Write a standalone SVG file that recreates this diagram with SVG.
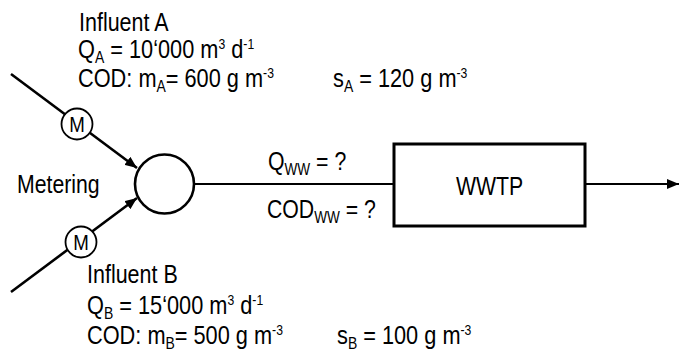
<svg xmlns="http://www.w3.org/2000/svg" width="679" height="363" viewBox="0 0 679 363">
<style>
.t{font-family:"Liberation Sans",Arial,Helvetica,sans-serif;font-size:25px;fill:#000}
.sub{font-size:16px}
.sup{font-size:14px}
.ln{stroke:#000;fill:none}
</style>
<defs>
<marker id="ah" markerUnits="userSpaceOnUse" markerWidth="12" markerHeight="10" refX="12" refY="5" orient="auto" viewBox="0 0 12 10">
<path d="M0,0 L12,5 L0,10 z" fill="#000"/>
</marker>
</defs>
<rect width="679" height="363" fill="#fff"/>
<g id="connectors">
<line class="ln" x1="11" y1="74" x2="137" y2="168" stroke-width="2.6" marker-end="url(#ah)"/>
<line class="ln" x1="11" y1="292" x2="137" y2="198" stroke-width="2.6" marker-end="url(#ah)"/>
<line class="ln" x1="194" y1="184" x2="394" y2="184" stroke-width="2.2"/>
<line class="ln" x1="585" y1="184" x2="679" y2="184" stroke-width="2.2" marker-end="url(#ah)"/>
</g>
<g id="meter-a">
<circle cx="77" cy="124" r="15.5" fill="#fff" stroke="#000" stroke-width="1.8"/>
<text class="t" text-anchor="middle" transform="translate(77,132) scale(0.85,1)" style="font-size:22px">M</text>
</g>
<g id="meter-b">
<circle cx="81" cy="242" r="15.5" fill="#fff" stroke="#000" stroke-width="1.8"/>
<text class="t" text-anchor="middle" transform="translate(81,250) scale(0.85,1)" style="font-size:22px">M</text>
</g>
<g id="mixer">
<circle cx="164.5" cy="184" r="29.5" fill="#fff" stroke="#000" stroke-width="2.6"/>
</g>
<g id="wwtp">
<rect x="394" y="144" width="191" height="82" fill="#fff" stroke="#000" stroke-width="3"/>
<text class="t" text-anchor="middle" transform="translate(489.5,194.5) scale(0.85,1)">WWTP</text>
</g>
<g id="metering-label">
<text class="t" transform="translate(17,193) scale(0.85,1)">Metering</text>
</g>
<g id="influent-a">
<text class="t" transform="translate(79,31) scale(0.86,1)">Influent A</text>
<text class="t" transform="translate(78,58) scale(0.87,1)">Q<tspan class="sub" dy="5">A</tspan><tspan dy="-5"> = 10‘000 m</tspan><tspan class="sup" dy="-9">3</tspan><tspan dy="9"> d</tspan><tspan class="sup" dy="-9">-1</tspan></text>
<text class="t" transform="translate(78,87) scale(0.87,1)">COD: m<tspan class="sub" dy="5">A</tspan><tspan dy="-5">= 600 g m</tspan><tspan class="sup" dy="-9">-3</tspan></text>
<text class="t" transform="translate(333,87) scale(0.87,1)">s<tspan class="sub" dy="5">A</tspan><tspan dy="-5"> = 120 g m</tspan><tspan class="sup" dy="-9">-3</tspan></text>
</g>
<g id="influent-b">
<text class="t" transform="translate(87,283) scale(0.86,1)">Influent B</text>
<text class="t" transform="translate(87,314) scale(0.87,1)">Q<tspan class="sub" dy="5">B</tspan><tspan dy="-5"> = 15‘000 m</tspan><tspan class="sup" dy="-9">3</tspan><tspan dy="9"> d</tspan><tspan class="sup" dy="-9">-1</tspan></text>
<text class="t" transform="translate(87,344) scale(0.87,1)">COD: m<tspan class="sub" dy="5">B</tspan><tspan dy="-5">= 500 g m</tspan><tspan class="sup" dy="-9">-3</tspan></text>
<text class="t" transform="translate(337,344) scale(0.87,1)">s<tspan class="sub" dy="5">B</tspan><tspan dy="-5"> = 100 g m</tspan><tspan class="sup" dy="-9">-3</tspan></text>
</g>
<g id="flow-labels">
<text class="t" transform="translate(268,170) scale(0.85,1)">Q<tspan class="sub" dy="5">WW</tspan><tspan dy="-5"> = ?</tspan></text>
<text class="t" transform="translate(267,218) scale(0.85,1)">COD<tspan class="sub" dy="5">WW</tspan><tspan dy="-5"> = ?</tspan></text>
</g>
</svg>
